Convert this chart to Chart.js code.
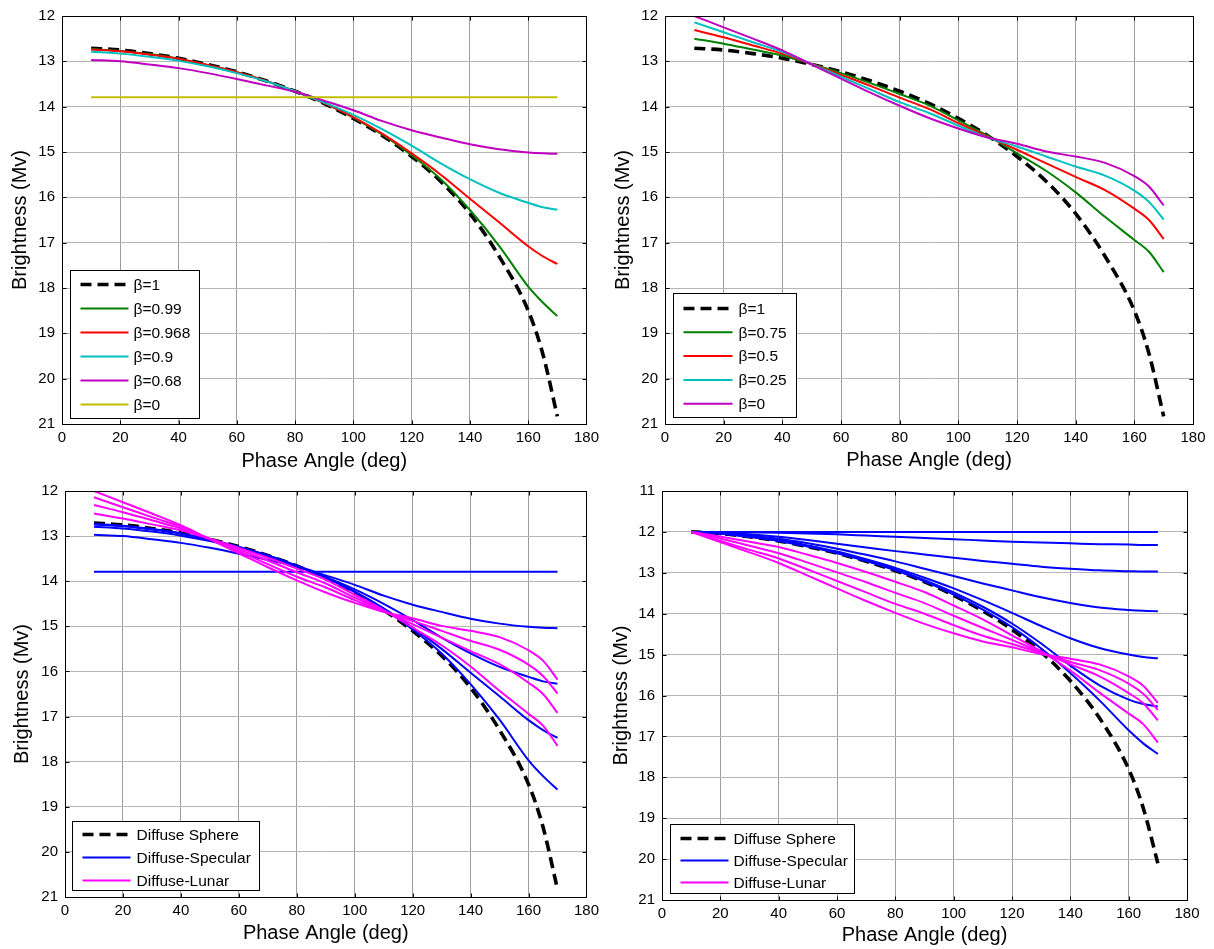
<!DOCTYPE html>
<html>
<head>
<meta charset="utf-8">
<script src="https://cdn.jsdelivr.net/npm/chart.js@4.4.1/dist/chart.umd.min.js"></script>
<style>
  html, body { margin: 0; padding: 0; background: #ffffff; }
  #fig { position: relative; width: 1214px; height: 949px; overflow: hidden; background: #ffffff; }
  #fig canvas { position: absolute; }
</style>
</head>
<body>
<div id="fig">
  <canvas id="pTL" width="604" height="475" style="left:0px;top:0px"></canvas>
  <canvas id="pTR" width="607" height="475" style="left:607px;top:0px"></canvas>
  <canvas id="pBL" width="604" height="474" style="left:0px;top:475px"></canvas>
  <canvas id="pBR" width="607" height="474" style="left:607px;top:475px"></canvas>
</div>
<script>
// Phase angles (deg) at which every curve is sampled
const phaseAngles = [10, 20, 30, 40, 50, 60, 70, 80, 90, 100, 110, 120, 130, 140, 150, 160, 165, 170];

// Axis ticks
const xTicks = [0, 20, 40, 60, 80, 100, 120, 140, 160, 180];
const yRangeTop = [12, 21];
const yRangeBottomRight = [11, 21];

// Diffuse sphere reference (Mv)
const diffuseSphere = [12.71, 12.75, 12.83, 12.93, 13.07, 13.23, 13.43, 13.66, 13.93, 14.26, 14.64, 15.10, 15.65, 16.36, 17.30, 18.50, 19.45, 20.83];

// Diffuse-specular mix, beta = fraction of diffuse reflection
const specBeta099 = [12.73, 12.77, 12.84, 12.94, 13.08, 13.24, 13.43, 13.66, 13.92, 14.24, 14.62, 15.07, 15.60, 16.28, 17.07, 17.97, 18.32, 18.62];
const specBeta0968 = [12.74, 12.78, 12.85, 12.94, 13.08, 13.24, 13.43, 13.66, 13.92, 14.23, 14.60, 15.03, 15.50, 16.03, 16.55, 17.08, 17.30, 17.47];
const specBeta09 = [12.79, 12.83, 12.90, 12.99, 13.11, 13.26, 13.44, 13.66, 13.91, 14.18, 14.50, 14.86, 15.25, 15.60, 15.90, 16.12, 16.22, 16.27];
const specBeta068 = [12.97, 13.00, 13.07, 13.15, 13.26, 13.39, 13.53, 13.67, 13.87, 14.08, 14.32, 14.52, 14.68, 14.83, 14.94, 15.01, 15.03, 15.04];
const specBeta0 = [13.79, 13.79, 13.79, 13.79, 13.79, 13.79, 13.79, 13.79, 13.79, 13.79, 13.79, 13.79, 13.79, 13.79, 13.79, 13.79, 13.79, 13.79];

// Diffuse-lunar mix
const lunarBeta075 = [12.50, 12.61, 12.74, 12.87, 13.06, 13.26, 13.48, 13.72, 13.97, 14.30, 14.64, 15.03, 15.42, 15.89, 16.43, 16.94, 17.20, 17.65];
const lunarBeta05 = [12.31, 12.47, 12.65, 12.83, 13.06, 13.30, 13.54, 13.80, 14.05, 14.36, 14.66, 14.95, 15.25, 15.55, 15.84, 16.25, 16.50, 16.92];
const lunarBeta025 = [12.14, 12.36, 12.58, 12.79, 13.06, 13.34, 13.62, 13.90, 14.14, 14.42, 14.68, 14.88, 15.10, 15.32, 15.52, 15.85, 16.10, 16.49];
const lunarBeta0 = [12.00, 12.25, 12.50, 12.76, 13.07, 13.38, 13.69, 13.98, 14.25, 14.48, 14.68, 14.82, 14.99, 15.10, 15.24, 15.53, 15.76, 16.18];

// Curves normalised to Mv = 12 at 10 deg
const sphereNorm = [12.00, 12.04, 12.12, 12.22, 12.36, 12.52, 12.72, 12.95, 13.22, 13.55, 13.93, 14.39, 14.94, 15.64, 16.55, 17.80, 18.75, 20.10];
const specNorm1 = [12.00, 12.00, 12.00, 12.00, 12.00, 12.00, 12.00, 12.00, 12.00, 12.00, 12.00, 12.00, 12.00, 12.00, 12.00, 12.00, 12.00, 12.00];
const specNorm2 = [12.00, 12.00, 12.01, 12.02, 12.04, 12.06, 12.09, 12.12, 12.15, 12.18, 12.21, 12.24, 12.26, 12.28, 12.30, 12.31, 12.32, 12.32];
const specNorm3 = [12.00, 12.02, 12.06, 12.12, 12.20, 12.29, 12.38, 12.47, 12.55, 12.63, 12.71, 12.78, 12.85, 12.90, 12.94, 12.96, 12.97, 12.97];
const specNorm4 = [12.00, 12.03, 12.09, 12.17, 12.28, 12.41, 12.56, 12.72, 12.90, 13.08, 13.26, 13.43, 13.60, 13.74, 13.85, 13.91, 13.93, 13.94];
const specNorm5 = [12.00, 12.04, 12.11, 12.20, 12.33, 12.48, 12.67, 12.88, 13.12, 13.38, 13.67, 13.98, 14.30, 14.60, 14.84, 15.00, 15.06, 15.09];
const specNorm6 = [12.00, 12.04, 12.12, 12.21, 12.35, 12.51, 12.70, 12.92, 13.18, 13.48, 13.83, 14.24, 14.73, 15.27, 15.75, 16.10, 16.21, 16.27];
const specNorm7 = [12.00, 12.04, 12.12, 12.22, 12.36, 12.52, 12.71, 12.94, 13.21, 13.53, 13.90, 14.33, 14.85, 15.45, 16.12, 16.85, 17.17, 17.43];
const lunarNorm075 = [12.00, 12.11, 12.24, 12.37, 12.56, 12.76, 12.98, 13.22, 13.47, 13.80, 14.14, 14.53, 14.92, 15.39, 15.93, 16.44, 16.70, 17.15];
const lunarNorm05 = [12.00, 12.16, 12.34, 12.52, 12.75, 12.99, 13.23, 13.49, 13.74, 14.05, 14.35, 14.64, 14.94, 15.24, 15.53, 15.94, 16.19, 16.61];
const lunarNorm025 = [12.00, 12.22, 12.44, 12.65, 12.92, 13.20, 13.48, 13.76, 14.00, 14.28, 14.54, 14.74, 14.96, 15.18, 15.38, 15.71, 15.96, 16.35];
const lunarNorm0 = [12.00, 12.25, 12.50, 12.76, 13.07, 13.38, 13.69, 13.98, 14.25, 14.48, 14.68, 14.82, 14.99, 15.10, 15.24, 15.53, 15.76, 16.18];

const FONT = '"Liberation Sans", Arial, Helvetica, sans-serif';

function series(label, values, color, dashed) {
  return {
    label: label,
    data: phaseAngles.map((a, i) => ({ x: a, y: values[i] })),
    borderColor: color,
    backgroundColor: color,
    borderWidth: dashed ? 3.6 : 2,
    borderDash: dashed ? [11, 6] : [],
    pointRadius: 0,
    fill: false,
    cubicInterpolationMode: 'monotone'
  };
}

// Frame, inward tick marks and the boxed legend of each panel
const framePlugin = {
  id: 'frameLegend',
  afterDraw(chart, args, opts) {
    const ctx = chart.ctx;
    const a = chart.chartArea;
    const xs = chart.scales.x, ys = chart.scales.y;
    ctx.save();
    ctx.strokeStyle = '#000000';
    ctx.lineWidth = 1;
    const L = Math.round(a.left) + 0.5, T = Math.round(a.top) + 0.5;
    const R = Math.round(a.right) + 0.5, B = Math.round(a.bottom) + 0.5;
    ctx.strokeRect(L, T, R - L, B - T);
    ctx.beginPath();
    xs.ticks.forEach(t => {
      const px = Math.round(xs.getPixelForValue(t.value)) + 0.5;
      ctx.moveTo(px, B); ctx.lineTo(px, B - 4);
      ctx.moveTo(px, T); ctx.lineTo(px, T + 4);
    });
    ys.ticks.forEach(t => {
      const py = Math.round(ys.getPixelForValue(t.value)) + 0.5;
      ctx.moveTo(L, py); ctx.lineTo(L + 4, py);
      ctx.moveTo(R, py); ctx.lineTo(R - 4, py);
    });
    ctx.stroke();

    // legend: one entry per distinct dataset label
    const seen = [];
    chart.data.datasets.forEach(ds => {
      if (!seen.find(e => e.label === ds.label)) seen.push(ds);
    });
    const bx = Math.round(a.left + opts.dx) + 0.5;
    const by = Math.round(a.bottom - opts.dy - opts.h) + 0.5;
    ctx.fillStyle = '#ffffff';
    ctx.fillRect(bx, by, opts.w, opts.h);
    ctx.strokeStyle = '#000000';
    ctx.lineWidth = 1;
    ctx.setLineDash([]);
    ctx.strokeRect(bx, by, opts.w, opts.h);
    ctx.font = '15.5px ' + FONT;
    ctx.textBaseline = 'middle';
    ctx.textAlign = 'left';
    seen.forEach((ds, i) => {
      const cy = by + opts.first + i * opts.gap;
      ctx.beginPath();
      ctx.strokeStyle = ds.borderColor;
      ctx.lineWidth = ds.borderWidth;
      ctx.setLineDash(ds.borderDash || []);
      ctx.moveTo(bx + opts.lineX, cy);
      ctx.lineTo(bx + opts.lineX + opts.lineLen, cy);
      ctx.stroke();
      ctx.fillStyle = '#000000';
      ctx.fillText(ds.label, bx + opts.textX, cy + 1);
    });
    ctx.restore();
  }
};

function makePanel(id, datasets, p) {
  // later datasets are drawn on top of earlier ones
  datasets.forEach((d, i) => { d.order = -i; });
  new Chart(document.getElementById(id), {
    type: 'line',
    data: { datasets: datasets },
    plugins: [framePlugin],
    options: {
      responsive: false,
      animation: false,
      devicePixelRatio: 1,
      layout: { padding: { top: p.padTop, right: p.padRight, left: 0, bottom: 0 } },
      plugins: {
        legend: { display: false },
        tooltip: { enabled: false },
        frameLegend: p.legend
      },
      scales: {
        x: {
          type: 'linear',
          min: xTicks[0], max: xTicks[xTicks.length - 1],
          afterBuildTicks: s => { s.ticks = xTicks.map(v => ({ value: v })); },
          afterFit: s => { s.height = p.xHeight; },
          ticks: { color: '#000', padding: 5, font: { family: FONT, size: 15 }, maxRotation: 0 },
          grid: { color: '#9c9c9c', lineWidth: 1, drawTicks: false },
          border: { display: true, color: '#000', width: 1 },
          title: { display: true, text: 'Phase Angle (deg)', color: '#000',
                   font: { family: FONT, size: 20 }, padding: { top: 0, bottom: p.xTitlePad } }
        },
        y: {
          type: 'linear',
          reverse: true,
          min: p.yRange[0], max: p.yRange[1],
          afterFit: s => { s.width = p.yWidth; },
          ticks: { color: '#000', padding: 7, stepSize: 1, font: { family: FONT, size: 15 } },
          grid: { color: '#b6b6b6', lineWidth: 1, drawTicks: false },
          border: { display: true, color: '#000', width: 1 },
          title: { display: true, text: 'Brightness (Mv)', color: '#000',
                   font: { family: FONT, size: 20 }, padding: { top: p.yTitlePad, bottom: 0 } }
        }
      }
    }
  });
}

// Top left: diffuse-specular family
makePanel('pTL', [
  series('\u03b2=1', diffuseSphere, '#000000', true),
  series('\u03b2=0.99', specBeta099, '#008000'),
  series('\u03b2=0.968', specBeta0968, '#ff0000'),
  series('\u03b2=0.9', specBeta09, '#00bfbf'),
  series('\u03b2=0.68', specBeta068, '#bf00bf'),
  series('\u03b2=0', specBeta0, '#bfbf00')
], { padTop: 11, padRight: 16, yWidth: 62, xHeight: 51, yTitlePad: 8, xTitlePad: 2, yRange: yRangeTop,
     legend: { dx: 8, dy: 6, w: 129, h: 148, first: 14, gap: 24, lineX: 10, lineLen: 48, textX: 63 } });

// Top right: diffuse-lunar family
makePanel('pTR', [
  series('\u03b2=1', diffuseSphere, '#000000', true),
  series('\u03b2=0.75', lunarBeta075, '#008000'),
  series('\u03b2=0.5', lunarBeta05, '#ff0000'),
  series('\u03b2=0.25', lunarBeta025, '#00bfbf'),
  series('\u03b2=0', lunarBeta0, '#bf00bf')
], { padTop: 8, padRight: 21, yWidth: 58, xHeight: 51, yTitlePad: 4, xTitlePad: 3, yRange: yRangeTop,
     legend: { dx: 8, dy: 7, w: 123, h: 124, first: 15, gap: 23.8, lineX: 10, lineLen: 49, textX: 65 } });

// Bottom left: both families together
makePanel('pBL', [
  series('Diffuse Sphere', diffuseSphere, '#000000', true),
  series('Diffuse-Specular', specBeta099, '#0000ff'),
  series('Diffuse-Specular', specBeta0968, '#0000ff'),
  series('Diffuse-Specular', specBeta09, '#0000ff'),
  series('Diffuse-Specular', specBeta068, '#0000ff'),
  series('Diffuse-Specular', specBeta0, '#0000ff'),
  series('Diffuse-Lunar', lunarBeta075, '#ff00ff'),
  series('Diffuse-Lunar', lunarBeta05, '#ff00ff'),
  series('Diffuse-Lunar', lunarBeta025, '#ff00ff'),
  series('Diffuse-Lunar', lunarBeta0, '#ff00ff')
], { padTop: 8, padRight: 16, yWidth: 65, xHeight: 52, yTitlePad: 10, xTitlePad: 4, yRange: yRangeTop,
     legend: { dx: 7, dy: 7, w: 187, h: 69, first: 13, gap: 23, lineX: 10, lineLen: 48, textX: 64 } });

// Bottom right: normalised curves
makePanel('pBR', [
  series('Diffuse Sphere', sphereNorm, '#000000', true),
  series('Diffuse-Specular', specNorm1, '#0000ff'),
  series('Diffuse-Specular', specNorm2, '#0000ff'),
  series('Diffuse-Specular', specNorm3, '#0000ff'),
  series('Diffuse-Specular', specNorm4, '#0000ff'),
  series('Diffuse-Specular', specNorm5, '#0000ff'),
  series('Diffuse-Specular', specNorm6, '#0000ff'),
  series('Diffuse-Specular', specNorm7, '#0000ff'),
  series('Diffuse-Lunar', lunarNorm075, '#ff00ff'),
  series('Diffuse-Lunar', lunarNorm05, '#ff00ff'),
  series('Diffuse-Lunar', lunarNorm025, '#ff00ff'),
  series('Diffuse-Lunar', lunarNorm0, '#ff00ff')
], { padTop: 13, padRight: 27, yWidth: 55, xHeight: 49, yTitlePad: 2, xTitlePad: 2, yRange: yRangeBottomRight,
     legend: { dx: 8, dy: 7, w: 184, h: 69, first: 14, gap: 22, lineX: 10, lineLen: 48, textX: 63 } });
</script>
</body>
</html>
